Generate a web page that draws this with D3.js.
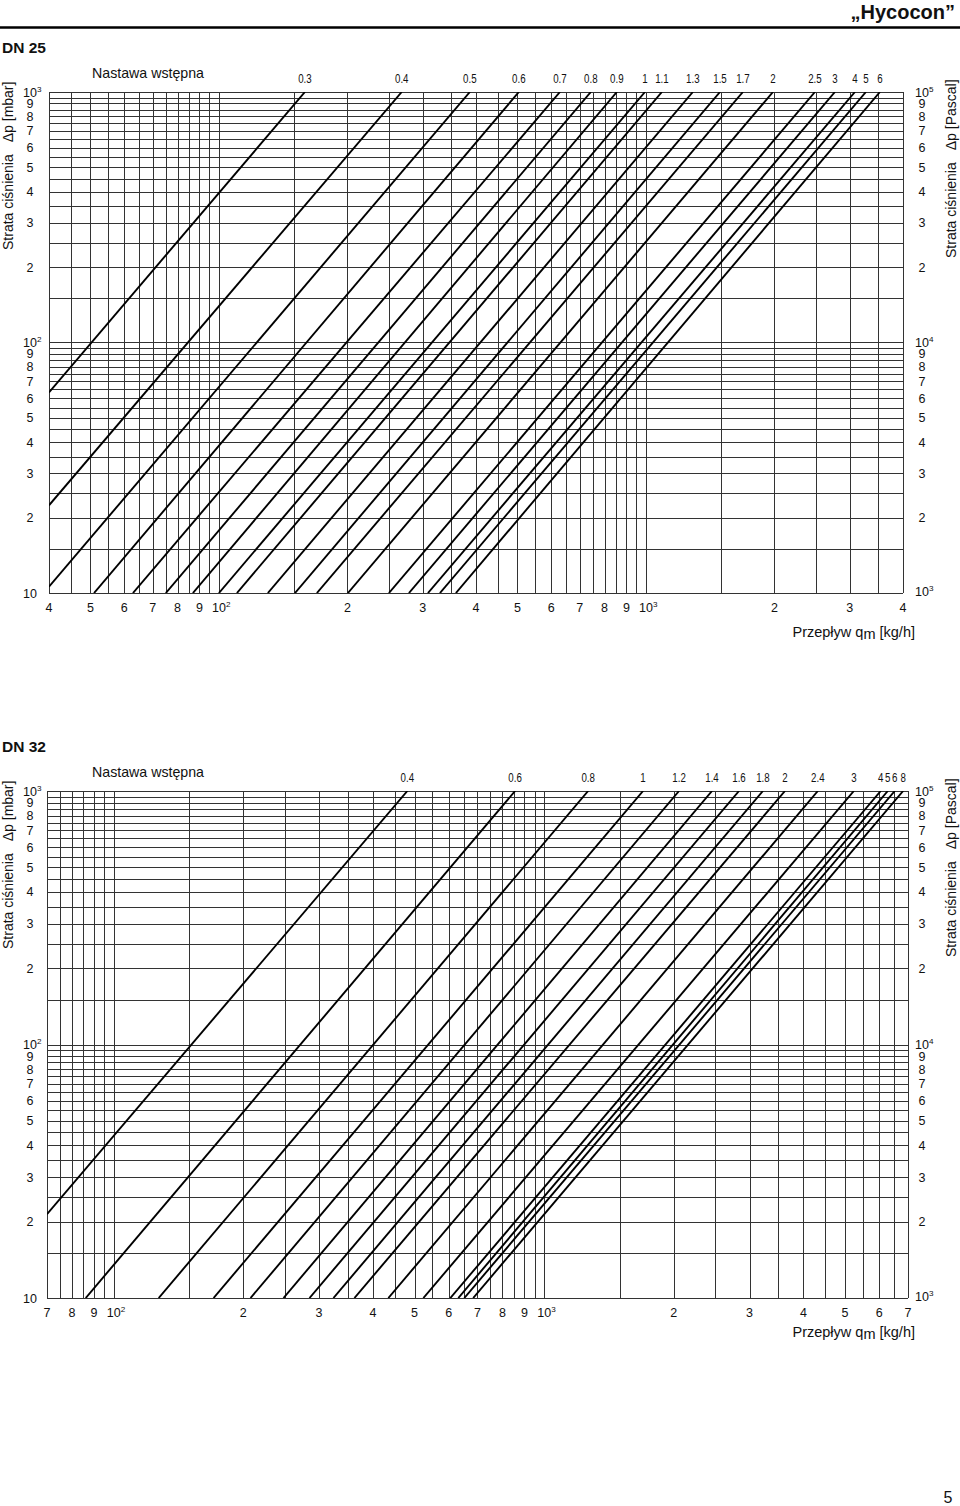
<!DOCTYPE html>
<html><head><meta charset="utf-8">
<script src="https://cdn.jsdelivr.net/npm/d3@7"></script>
<style>
body{margin:0;background:#fff}
svg{display:block}
text{font-family:"Liberation Sans",Arial,Helvetica,sans-serif;fill:#111}
</style>
</head><body>
<svg id="c" width="960" height="1506"></svg>
<script>
// ---------- DATA ----------
// pressure-drop grid (mbar) – same for both charts
const gridDp = [10,15,20,25,30,35,40,45,50,55,60,65,70,75,80,85,90,95,100,
  150,200,250,300,350,400,450,500,550,600,650,700,750,800,850,900,950,1000];
const leftTickValues = [10,20,30,40,50,60,70,80,90,100,200,300,400,500,600,700,800,900,1000];
const leftTickLabels = ["10","2","3","4","5","6","7","8","9","10^2","2","3","4","5","6","7","8","9","10^3"];
const rightTickLabels = ["10^3","2","3","4","5","6","7","8","9","10^4","2","3","4","5","6","7","8","9","10^5"];

// DN 25
const dn25GridQ = [40,45,50,55,60,65,70,75,80,85,90,95,100,150,200,250,300,350,400,450,500,
  550,600,650,700,750,800,850,900,950,1000,1500,2000,2500,3000,3500,4000];
const dn25TickValues = [40,50,60,70,80,90,100,200,300,400,500,600,700,800,900,1000,2000,3000,4000];
const dn25TickLabels = ["4","5","6","7","8","9","10^2","2","3","4","5","6","7","8","9","10^3","2","3","4"];
const dn25Presets = ["0.3","0.4","0.5","0.6","0.7","0.8","0.9","1","1.1","1.3","1.5","1.7","2","2.5","3","4","5","6"];
const dn25QTop   = [159,268,387,504,629,743,855,995,1090,1288,1491,1687,1984,2488,2771,3087,3275,3532]; // kg/h at 1000 mbar
const dn25QEnd   = [40,40,40,51.0,62.9,75.1,86.9,100,110.2,130.2,150.7,169.6,200.5,250.1,278.6,308.7,329.3,358.9];
const dn25DpEnd  = [63.2,22.4,10.6,10,10,10,10,10,10,10,10,10,10,10,10,10,10,10];

// DN 32
const dn32GridQ = [70,75,80,85,90,95,100,150,200,250,300,350,400,450,500,550,600,650,700,750,800,
  850,900,950,1000,1500,2000,2500,3000,3500,4000,4500,5000,5500,6000,6500,7000];
const dn32TickValues = [70,80,90,100,200,300,400,500,600,700,800,900,1000,2000,3000,4000,5000,6000,7000];
const dn32TickLabels = ["7","8","9","10^2","2","3","4","5","6","7","8","9","10^3","2","3","4","5","6","7"];
const dn32Presets = ["0.4","0.6","0.8","1","1.2","1.4","1.6","1.8","2","2.4","3","4","5","6","8"];
const dn32QTop   = [481,856,1265,1697,2057,2454,2835,3222,3625,4322,5240,6050,6283,6522,6820];
const dn32QEnd   = [70,86.1,127.2,170.6,207.9,248,285,323.9,362.4,434.5,524,605.3,631.7,652.3,684];
const dn32DpEnd  = [21.4,10,10,10,10,10,10,10,10,10,10,10,10,10,10];

// ---------- DRAW ----------
const svg = d3.select("#c");
const GRID = "#333";

// header
svg.append("text").attr("x",955).attr("y",19).attr("text-anchor","end")
  .attr("font-size",20).attr("font-weight","bold").text("\u201EHycocon\u201D");
svg.append("line").attr("x1",0).attr("x2",960).attr("y1",27.5).attr("y2",27.5)
  .attr("stroke","#000").attr("stroke-width",2.5);
svg.append("text").attr("x",948).attr("y",1503).attr("text-anchor","middle")
  .attr("font-size",16).text("5");

function labelWithSup(g, s, x, y, size, mode){
  const parts = s.split("^");
  const t = g.append("text").attr("y",y).attr("font-size",size);
  if(parts.length===1){
    t.attr("x",x).attr("text-anchor","middle").text(s);
  } else {
    const baseW = size*0.556*2;
    const x0 = mode==="start" ? x : x - baseW/2;
    t.attr("x",x0).attr("text-anchor","start");
    t.append("tspan").text(parts[0]);
    t.append("tspan").attr("dy",-5).attr("font-size",size*0.65).text(parts[1]);
  }
  return t;
}

function drawChart(cfg){
  const g = svg.append("g");
  const x = d3.scaleLog().domain(cfg.qDomain).range([cfg.left,cfg.right]);
  const y = d3.scaleLog().domain([10,1000]).range([cfg.bottom,cfg.top]);
  const id = "clip"+cfg.name.replace(/\s/g,"");
  svg.append("clipPath").attr("id",id).append("rect")
    .attr("x",cfg.left).attr("y",cfg.top).attr("width",cfg.right-cfg.left).attr("height",cfg.bottom-cfg.top);

  // title
  g.append("text").attr("x",2).attr("y",cfg.top-39).attr("font-size",15.5).attr("font-weight","bold").text(cfg.name);
  g.append("text").attr("x",92).attr("y",cfg.top-14).attr("font-size",14.2).text("Nastawa wstępna");

  // grid
  const grid = g.append("g").attr("stroke",GRID).attr("stroke-width",1).attr("shape-rendering","crispEdges");
  grid.selectAll("line.h").data(gridDp).join("line").attr("class","h")
    .attr("x1",cfg.left).attr("x2",cfg.right).attr("y1",d=>Math.round(y(d))+0.5).attr("y2",d=>Math.round(y(d))+0.5);
  grid.selectAll("line.v").data(cfg.gridQ).join("line").attr("class","v")
    .attr("y1",cfg.top).attr("y2",cfg.bottom).attr("x1",d=>Math.round(x(d))+0.5).attr("x2",d=>Math.round(x(d))+0.5);

  // characteristic lines
  const line = d3.line().x(d=>x(d[0])).y(d=>y(d[1]));
  const lines = cfg.presets.map((p,i)=>[[cfg.qTop[i],1000],[cfg.qEnd[i],cfg.dpEnd[i]]]);
  g.append("g").attr("clip-path",`url(#${id})`).selectAll("path").data(lines).join("path")
    .attr("d",line).attr("fill","none").attr("stroke","#000").attr("stroke-width",1.9);

  // preset labels (condensed)
  g.append("g").selectAll("text").data(cfg.presets).join("text")
    .attr("transform",(d,i)=>`translate(${x(cfg.qTop[i])},${cfg.top-9}) scale(0.72,1)`)
    .attr("text-anchor","middle").attr("font-size",13.5).text(d=>d);

  // left / right axis labels
  leftTickValues.forEach((v,i)=>{
    const s = leftTickLabels[i];
    labelWithSup(g, s, s.includes("^")?23:30, y(v)+4.5, 12.5, "start");
    const r = rightTickLabels[i];
    labelWithSup(g, r, r.includes("^")?915:922, y(v)+(i===0?3:4.5), 12.5, "start");
  });

  // bottom labels
  cfg.tickValues.forEach((v,i)=>{
    labelWithSup(g, cfg.tickLabels[i], x(v), cfg.bottom+19, 12.5, "middle");
  });

  // x-axis title
  const xt = g.append("text").attr("x",915).attr("y",cfg.xTitleY).attr("text-anchor","end").attr("font-size",14.5);
  xt.append("tspan").text("Przepływ q");
  xt.append("tspan").attr("dy",2).text("m");
  xt.append("tspan").attr("dy",-2).text(" [kg/h]");

  // rotated y titles
  function yTitle(xp, yBottom, unit){
    const t = g.append("text").attr("transform",`translate(${xp},${yBottom}) rotate(-90)`).attr("font-size",14);
    t.append("tspan").text("Strata ciśnienia");
    t.append("tspan").attr("dx",12).text("Δp [" + unit + "]");
    return t;
  }
  yTitle(13, cfg.top+158, "mbar");
  yTitle(956, cfg.top+166, "Pascal");
}

drawChart({name:"DN 25", qDomain:[40,4000], left:49, right:903, top:92, bottom:593,
  gridQ:dn25GridQ, tickValues:dn25TickValues, tickLabels:dn25TickLabels,
  presets:dn25Presets, qTop:dn25QTop, qEnd:dn25QEnd, dpEnd:dn25DpEnd, xTitleY:637});
drawChart({name:"DN 32", qDomain:[70,7000], left:47, right:908, top:791, bottom:1298,
  gridQ:dn32GridQ, tickValues:dn32TickValues, tickLabels:dn32TickLabels,
  presets:dn32Presets, qTop:dn32QTop, qEnd:dn32QEnd, dpEnd:dn32DpEnd, xTitleY:1337});
</script>
</body></html>
